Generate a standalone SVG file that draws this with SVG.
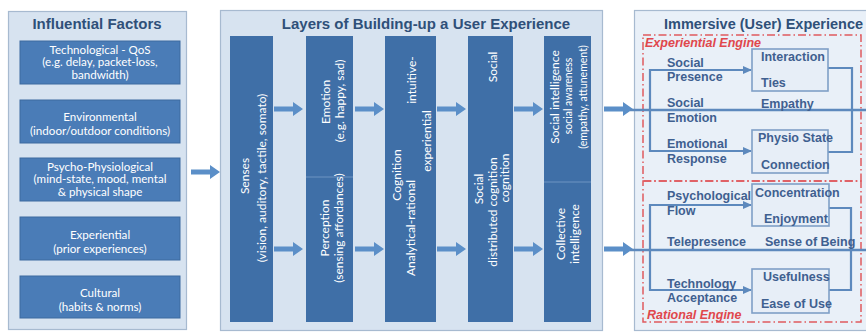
<svg xmlns="http://www.w3.org/2000/svg" xmlns:xlink="http://www.w3.org/1999/xlink" width="866" height="332" viewBox="0 0 866 332">
<style>
.panel{fill:#d7e3f0;stroke:#a7bad0;stroke-width:1.2}
.panelR{fill:#e9f0f8;stroke:#a7bad0;stroke-width:1.2}
.title{font-family:"Liberation Sans",Arial,sans-serif;font-weight:bold;font-size:15px;fill:#2f5079}
.fbox{fill:#4a7cb7;stroke:#3d6a9f;stroke-width:1}
.col{fill:#3f6fa7}
.split{stroke:#6f95c2;stroke-width:1}
.wt{font-family:Lato,"Open Sans",sans-serif;font-size:11.6px;fill:#ffffff;text-anchor:middle}
.wv{font-family:Lato,"Open Sans",sans-serif;font-size:12px;fill:#ffffff;dominant-baseline:central;text-anchor:middle}
.ws{font-size:10.5px}
.big{fill:#5b8fc8}
.red{fill:none;stroke:#e05a5e;stroke-width:1.5;stroke-dasharray:8 3 1.5 3}
.rl{font-family:"Liberation Sans",Arial,sans-serif;font-weight:bold;font-style:italic;font-size:12.5px;fill:#e0474c}
.bt{font-family:"Liberation Sans",Arial,sans-serif;font-weight:bold;font-size:12.5px;fill:#3f6090}
.ib{fill:#e7eef7;stroke:#7f9fc6;stroke-width:1.6}
.ln{fill:none;stroke:#5d89bd;stroke-width:2.2}
.lna{fill:none;stroke:#5d89bd;stroke-width:2.2;marker-end:url(#ah)}
.thru{fill:none;stroke:#5d89bd;stroke-width:2.6}
</style>
<defs>
<path id="bigArrow" d="M0,-2.6 H19 V-7 L29,0 L19,7 V2.6 H0 Z"/>
<marker id="ah" markerUnits="userSpaceOnUse" markerWidth="10" markerHeight="10" refX="8" refY="5" orient="auto">
<path d="M0,1 L9,5 L0,9 Z" fill="#5d89bd"/>
</marker>
</defs>

<!-- Panels -->
<g id="panel-influential">
<rect class="panel" x="8.5" y="11.5" width="178" height="318"/>
<text class="title" x="97" y="29" text-anchor="middle">Influential Factors</text>
</g>
<g id="panel-layers">
<rect class="panel" x="220.5" y="10.5" width="382" height="320"/>
<text class="title" x="426" y="29" text-anchor="middle">Layers of Building-up a User Experience</text>
</g>
<g id="panel-immersive">
<rect class="panelR" x="634.5" y="10.5" width="240" height="320"/>
<text class="title" x="664" y="29" style="font-size:14.5px">Immersive (User) Experience</text>
</g>

<!-- Influential factor nodes -->
<g id="f-tech">
<rect class="fbox" x="20" y="41" width="160" height="43"/>
<text class="wt" x="100" y="53.5">Technological - QoS</text>
<text class="wt" x="100" y="66">(e.g. delay, packet-loss,</text>
<text class="wt" x="100" y="78.5">bandwidth)</text>
</g>
<g id="f-env">
<rect class="fbox" x="20" y="100" width="160" height="43"/>
<text class="wt" x="100" y="121">Environmental</text>
<text class="wt" x="100" y="135">(indoor/outdoor conditions)</text>
</g>
<g id="f-psycho">
<rect class="fbox" x="20" y="158" width="160" height="43"/>
<text class="wt" x="100" y="170.5">Psycho-Physiological</text>
<text class="wt" x="100" y="183">(mind-state, mood, mental</text>
<text class="wt" x="100" y="195.5">&amp; physical shape</text>
</g>
<g id="f-exp">
<rect class="fbox" x="20" y="217" width="160" height="43"/>
<text class="wt" x="100" y="239">Experiential</text>
<text class="wt" x="100" y="253">(prior experiences)</text>
</g>
<g id="f-cult">
<rect class="fbox" x="20" y="276" width="160" height="42"/>
<text class="wt" x="100" y="297">Cultural</text>
<text class="wt" x="100" y="311">(habits &amp; norms)</text>
</g>

<!-- Layer columns -->
<g id="l-senses">
<rect class="col" x="230" y="36" width="43" height="286"/>
<text class="wv" transform="translate(244,176) rotate(-90)">Senses</text>
<text class="wv" transform="translate(261,178) rotate(-90)">(vision, auditory, tactile, somato)</text>
</g>
<g id="l-emotion">
<rect class="col" x="306" y="36" width="47" height="141"/>
<text class="wv" transform="translate(325,102) rotate(-90)">Emotion</text>
<text class="wv" transform="translate(339,101) rotate(-90)">(e.g. happy, sad)</text>
</g>
<g id="l-perception">
<rect class="col" x="306" y="177" width="47" height="145"/>
<line class="split" x1="306" y1="177" x2="353" y2="177"/>
<text class="wv" transform="translate(324,228) rotate(-90)">Perception</text>
<text class="wv" transform="translate(338,228) rotate(-90)">(sensing affordances)</text>
</g>
<g id="l-cognition">
<rect class="col" x="385" y="36" width="51" height="286"/>
<text class="wv" transform="translate(396,175) rotate(-90)">Cognition</text>
<text class="wv" transform="translate(410,228) rotate(-90)">Analytical-rational</text>
<text class="wv" transform="translate(411,80) rotate(-90)">intuitive-</text>
<text class="wv" transform="translate(426,141) rotate(-90)">experiential</text>
</g>
<g id="l-social">
<rect class="col" x="468" y="36" width="45" height="286"/>
<text class="wv" transform="translate(492,67) rotate(-90)">Social</text>
<text class="wv" transform="translate(478,189) rotate(-90)">Social</text>
<text class="wv" transform="translate(492,212) rotate(-90)">distributed cognition</text>
<text class="wv" transform="translate(504,178) rotate(-90)">cognition</text>
</g>
<g id="l-social-intelligence">
<rect class="col" x="544" y="36" width="47" height="146"/>
<text class="wv" transform="translate(554,97) rotate(-90)">Social intelligence</text>
<text class="wv ws" transform="translate(568,96) rotate(-90)">social awareness</text>
<text class="wv ws" transform="translate(583,97) rotate(-90)">(empathy, attunement)</text>
</g>
<g id="l-collective">
<rect class="col" x="544" y="182" width="47" height="140"/>
<line class="split" x1="544" y1="182" x2="591" y2="182"/>
<text class="wv" transform="translate(560,234) rotate(-90)">Collective</text>
<text class="wv" transform="translate(574,234) rotate(-90)">intelligence</text>
</g>

<!-- Engines -->
<g id="experiential-engine">
<rect class="red" x="643" y="35" width="218" height="146"/>
<text class="rl" x="645" y="47">Experiential Engine</text>
</g>
<g id="rational-engine">
<rect class="red" x="643" y="181" width="218" height="141"/>
<text class="rl" x="647" y="319">Rational Engine</text>
</g>

<!-- Connectors -->
<g id="connectors">
<use href="#bigArrow" class="big" transform="translate(191,172)"/>
<use href="#bigArrow" class="big" transform="translate(274,109)"/>
<use href="#bigArrow" class="big" transform="translate(355,109)"/>
<use href="#bigArrow" class="big" transform="translate(437,109)"/>
<use href="#bigArrow" class="big" transform="translate(514,109)"/>
<use href="#bigArrow" class="big" transform="translate(604,109)"/>
<use href="#bigArrow" class="big" transform="translate(274,249)"/>
<use href="#bigArrow" class="big" transform="translate(355,249)"/>
<use href="#bigArrow" class="big" transform="translate(437,249)"/>
<use href="#bigArrow" class="big" transform="translate(514,249)"/>
<use href="#bigArrow" class="big" transform="translate(604,249)"/>
<path class="thru" d="M630,110 H866"/>
<path class="lna" d="M650,110 V70 H751"/>
<path class="lna" d="M650,110 V151 H751"/>
<path class="ln" d="M828,68 H852 V152 H828"/>
<path class="thru" d="M630,250 H866"/>
<path class="lna" d="M650,250 V205 H751"/>
<path class="lna" d="M650,250 V290 H751"/>
<path class="ln" d="M829,208 H851 V290 H829"/>
</g>

<!-- Immersive experience nodes -->
<g id="n-social-presence">
<text class="bt" x="667" y="67">Social</text>
<text class="bt" x="667" y="81">Presence</text>
</g>
<g id="n-social-emotion">
<text class="bt" x="667" y="107">Social</text>
<text class="bt" x="667" y="122">Emotion</text>
</g>
<g id="n-emotional-response">
<text class="bt" x="667" y="148">Emotional</text>
<text class="bt" x="667" y="163">Response</text>
</g>
<g id="n-interaction">
<rect class="ib" x="752" y="49" width="76" height="42"/>
<text class="bt" x="761" y="61">Interaction</text>
<text class="bt" x="761" y="87">Ties</text>
</g>
<g id="n-empathy">
<text class="bt" x="761" y="108">Empathy</text>
</g>
<g id="n-physio">
<rect class="ib" x="752" y="130" width="76" height="43"/>
<text class="bt" x="758" y="142">Physio State</text>
<text class="bt" x="761" y="169">Connection</text>
</g>
<g id="n-psych-flow">
<text class="bt" x="667" y="200">Psychological</text>
<text class="bt" x="667" y="215">Flow</text>
</g>
<g id="n-telepresence">
<text class="bt" x="667" y="246">Telepresence</text>
</g>
<g id="n-technology-acceptance">
<text class="bt" x="667" y="288">Technology</text>
<text class="bt" x="667" y="302">Acceptance</text>
</g>
<g id="n-concentration">
<rect class="ib" x="752" y="184" width="77" height="42"/>
<text class="bt" x="755" y="197">Concentration</text>
<text class="bt" x="764" y="223">Enjoyment</text>
</g>
<g id="n-sense-of-being">
<text class="bt" x="765" y="246">Sense of Being</text>
</g>
<g id="n-usefulness">
<rect class="ib" x="752" y="269" width="77" height="44"/>
<text class="bt" x="763" y="281">Usefulness</text>
<text class="bt" x="761" y="308">Ease of Use</text>
</g>
</svg>
